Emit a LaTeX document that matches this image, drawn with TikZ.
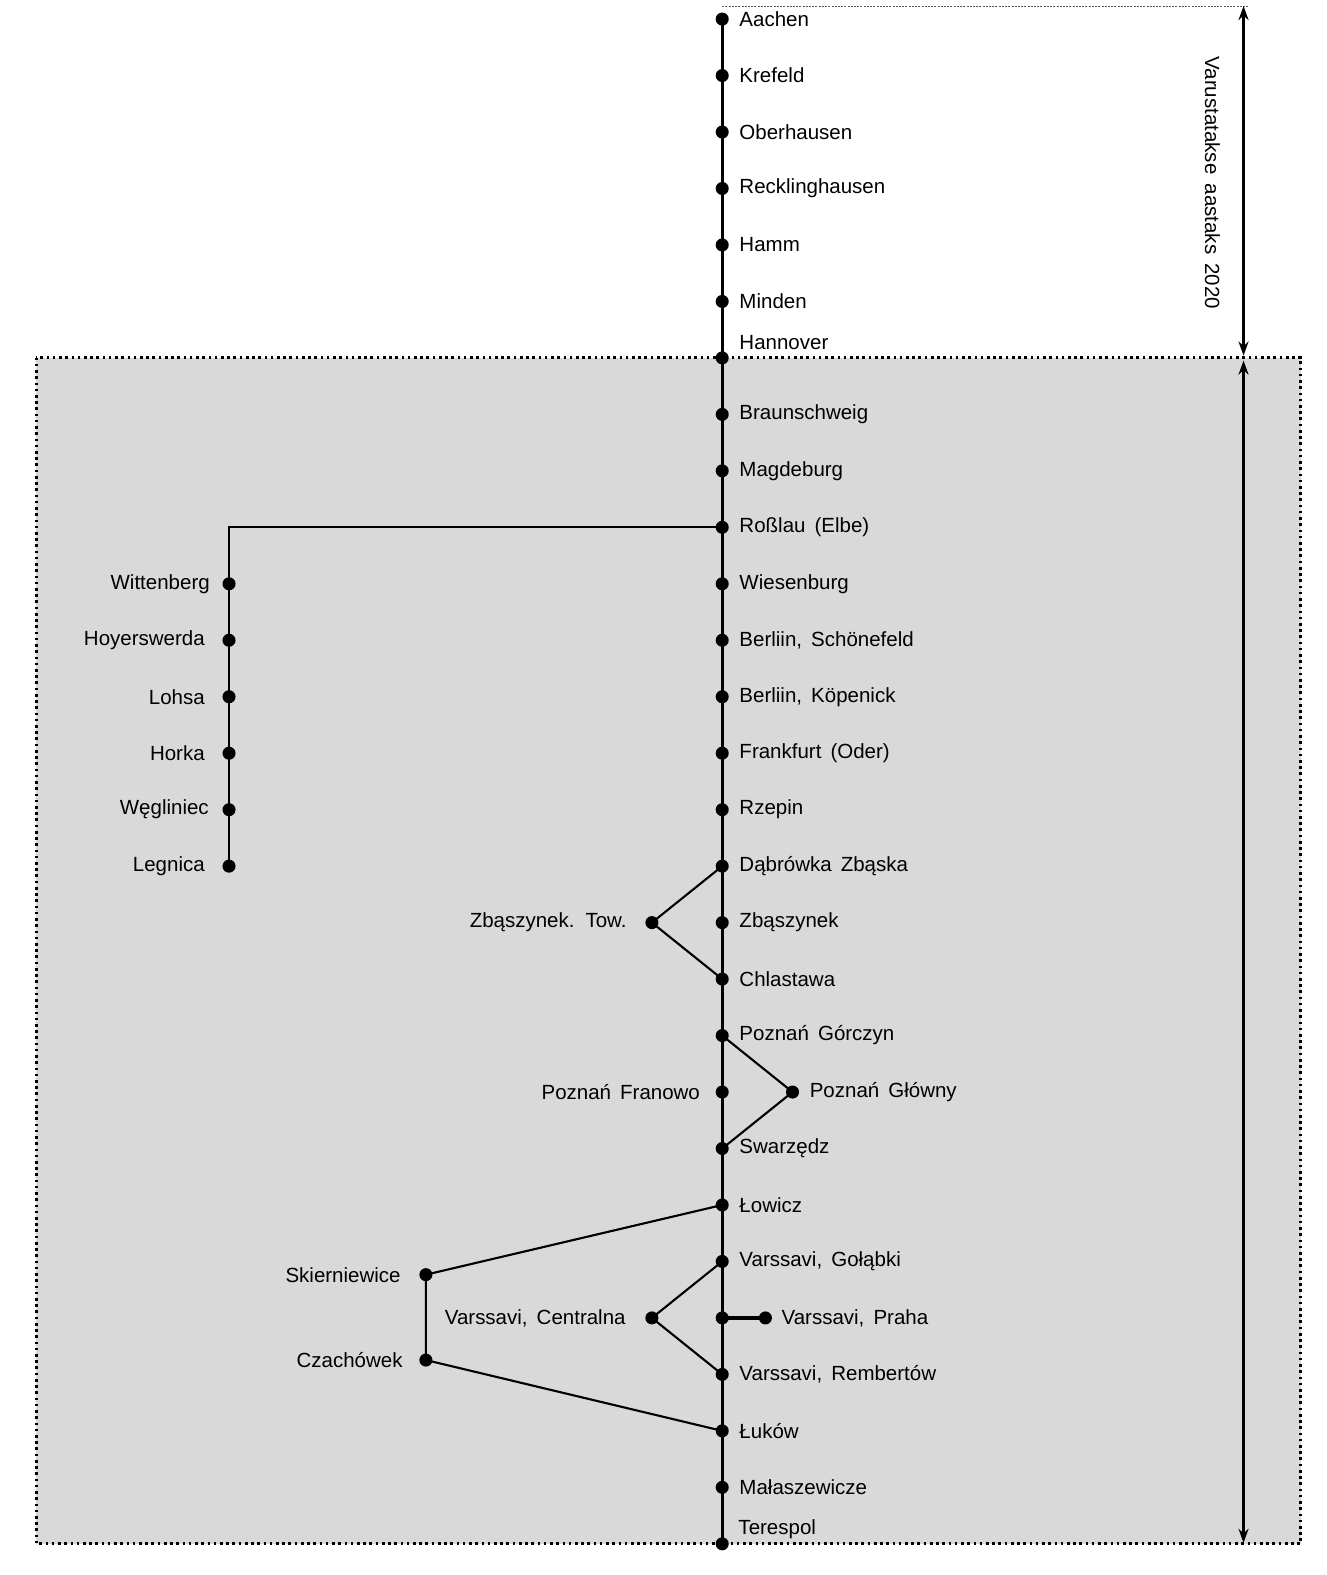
\documentclass[tikz,border=0pt]{standalone}
\usepackage{fontspec}
\setmainfont{Liberation Sans}[WordSpace=1.6]
\usetikzlibrary{arrows.meta}
\begin{document}
\begin{tikzpicture}[x=1pt,y=-1pt,
  dot/.style={circle,fill=black,inner sep=0pt,minimum size=13pt},
  rlab/.style={anchor=west,inner sep=0pt,font=\fontsize{20.4}{24}\selectfont},
  llab/.style={anchor=east,inner sep=0pt,font=\fontsize{20.4}{24}\selectfont},
  mainline/.style={line width=3.4pt},
  branchline/.style={line width=2.1pt},
  dimarrow/.style={line width=2.6pt,{Stealth[length=14pt,width=10pt]}-{Stealth[length=14pt,width=10pt]}},
  boxborder/.style={line width=2.8pt,dash pattern=on 2.6pt off 3.6pt},
  topdots/.style={line width=1pt,dash pattern=on 2pt off 1.2pt,black!65}
]
\useasboundingbox (0,0) rectangle (1321,1568);
% gray region
\fill[black!15] (36,356) rectangle (1295,1537);
\draw[boxborder] (36,356) rectangle (1295,1537);
% top dotted line
\coordinate (td1) at (719,6);
\coordinate (td2) at (1242,6);
\draw[topdots] (td1) -- (td2);
% dimension arrows
\coordinate (a1) at (1238,6);
\coordinate (a2) at (1238,354);
\coordinate (a3) at (1238,359);
\coordinate (a4) at (1238,1536);
\draw[dimarrow] (a1) -- (a2);
\draw[dimarrow] (a3) -- (a4);
\node[rotate=-90,inner sep=0pt,font=\fontsize{20.4}{24}\selectfont] (vt) at (1207,182) {Varustatakse aastaks 2020};
% main line stations
\foreach \i in {0,...,27} {
  \coordinate (c\i) at (719,{19+56.22*\i});
}
\draw[mainline] (c0) -- (c27);
% branch positions
\foreach \i in {10,...,15} {
  \coordinate (b\i) at (228,{19+56.22*\i});
}
\coordinate (bturn) at (228,{19+56.22*9});
\coordinate (zt) at (649,{19+56.22*16});
\coordinate (pg) at (789,{19+56.22*19});
\coordinate (sk) at (424,1269);
\coordinate (cz) at (424,1354);
\coordinate (vc) at (649,{19+56.22*23});
\coordinate (vp) at (762,{19+56.22*23});
% branch lines
\draw[branchline] (c9) -- (bturn) -- (b15);
\draw[branchline] (c15) -- (zt) -- (c17);
\draw[branchline] (c18) -- (pg) -- (c20);
\draw[branchline] (c21) -- (sk) -- (cz) -- (c25);
\draw[branchline] (c22) -- (vc) -- (c24);
\draw[mainline] (c23) -- (vp);
% dots
\foreach \i in {0,...,27} { \node[dot] (m\i) at (c\i) {}; }
\foreach \i in {10,...,15} { \node[dot] (bd\i) at (b\i) {}; }
\node[dot] (ztd) at (zt) {};
\node[dot] (pgd) at (pg) {};
\node[dot] (skd) at (sk) {};
\node[dot] (czd) at (cz) {};
\node[dot] (vcd) at (vc) {};
\node[dot] (vpd) at (vp) {};
% right labels on main line
\foreach \i/\t in {0/Aachen,1/Krefeld,2/Oberhausen,3/Recklinghausen,4/Hamm,5/Minden,
  7/Braunschweig,8/Magdeburg,9/{Roßlau (Elbe)},10/Wiesenburg,11/{Berliin, Schönefeld},
  12/{Berliin, Köpenick},13/{Frankfurt (Oder)},14/Rzepin,15/{Dąbrówka Zbąska},
  16/Zbąszynek,17/Chlastawa,18/{Poznań Górczyn},20/Swarzędz,21/Łowicz,
  22/{Varssavi, Gołąbki},24/{Varssavi, Rembertów},25/Łuków,26/Małaszewicze} {
  \node[rlab] (l\i) at ([xshift=17pt]c\i) {\t};
}
\node[rlab] (l6) at ([xshift=17pt,yshift=15pt]c6) {Hannover};
\node[rlab] (l27) at ([xshift=16pt,yshift=15pt]c27) {Terespol};
% left branch labels
\node[llab] (lw) at ([xshift=-19pt]b10) {Wittenberg};
\node[llab] (lh) at ([xshift=-24pt]b11) {Hoyerswerda};
\node[llab] (llo) at ([xshift=-24pt]b12) {Lohsa};
\node[llab] (lho) at ([xshift=-24pt]b13) {Horka};
\node[llab] (lwe) at ([xshift=-20pt]b14) {Węgliniec};
\node[llab] (lle) at ([xshift=-24pt]b15) {Legnica};
% other labels
\node[llab] (lzt) at ([xshift=-25pt]zt) {Zbąszynek. Tow.};
\node[llab] (lpf) at ([xshift=-22pt]c19) {Poznań Franowo};
\node[rlab] (lpg) at ([xshift=17pt]pg) {Poznań Główny};
\node[llab] (lsk) at ([xshift=-25pt]sk) {Skierniewice};
\node[llab] (lcz) at ([xshift=-23pt]cz) {Czachówek};
\node[llab] (lvc) at ([xshift=-26pt]vc) {Varssavi, Centralna};
\node[rlab] (lvp) at ([xshift=16pt]vp) {Varssavi, Praha};
\end{tikzpicture}
\end{document}
